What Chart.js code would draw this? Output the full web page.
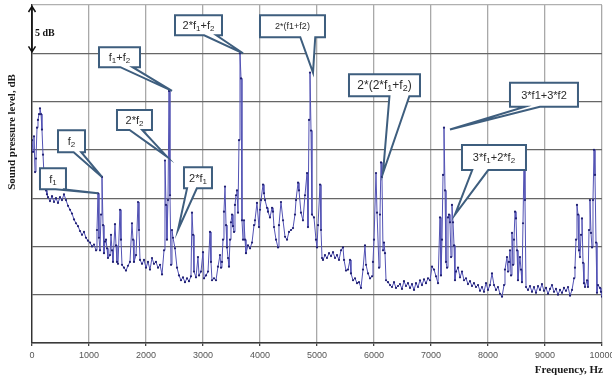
<!DOCTYPE html>
<html>
<head>
<meta charset="utf-8">
<script src="https://cdn.jsdelivr.net/npm/chart.js@4/dist/chart.umd.min.js"></script>
<style>
  html, body { margin: 0; padding: 0; background: #ffffff; }
  #wrap { width: 612px; height: 376px; position: relative; }
</style>
</head>
<body>
<div id="wrap"><canvas id="spectrum" width="612" height="376"></canvas></div>
<script>
// Narrow-band spectrum: frequency (Hz) and sound pressure level (dB, relative)
const freqHz = [
  0, 18, 35, 53, 70, 88, 105, 123, 140, 158, 175, 193, 211, 228, 246, 263, 281, 316, 351, 386,
  421, 456, 491, 526, 561, 596, 632, 667, 702, 737, 772, 807, 842, 877, 912, 947, 982, 1018, 1053, 1088,
  1123, 1140, 1158, 1175, 1193, 1211, 1228, 1246, 1263, 1281, 1298, 1316, 1333, 1368, 1386, 1404, 1421, 1456, 1474, 1491,
  1509, 1544, 1561, 1579, 1614, 1649, 1684, 1719, 1754, 1772, 1789, 1825, 1860, 1877, 1895, 1930, 1965, 2000, 2035, 2070,
  2105, 2140, 2175, 2211, 2246, 2281, 2316, 2333, 2351, 2368, 2386, 2404, 2421, 2439, 2456, 2474, 2509, 2544, 2579, 2614,
  2649, 2684, 2719, 2754, 2789, 2807, 2825, 2842, 2877, 2912, 2930, 2965, 3000, 3018, 3053, 3088, 3123, 3140, 3158, 3193,
  3228, 3263, 3298, 3316, 3333, 3351, 3368, 3386, 3404, 3421, 3439, 3456, 3474, 3491, 3509, 3526, 3544, 3561, 3579, 3596,
  3614, 3632, 3649, 3667, 3684, 3702, 3719, 3737, 3754, 3789, 3825, 3860, 3895, 3912, 3947, 3982, 4000, 4018, 4053, 4070,
  4088, 4123, 4140, 4175, 4211, 4228, 4246, 4281, 4316, 4333, 4368, 4404, 4439, 4474, 4509, 4544, 4579, 4614, 4632, 4667,
  4684, 4719, 4754, 4789, 4825, 4842, 4860, 4877, 4895, 4912, 4947, 4982, 5000, 5018, 5053, 5070, 5088, 5105, 5140, 5175,
  5211, 5246, 5281, 5316, 5351, 5386, 5421, 5456, 5474, 5509, 5544, 5579, 5596, 5632, 5667, 5702, 5737, 5772, 5807, 5842,
  5860, 5895, 5930, 5965, 5982, 6000, 6035, 6053, 6088, 6105, 6123, 6140, 6158, 6175, 6193, 6211, 6246, 6281, 6316, 6351,
  6386, 6421, 6456, 6491, 6526, 6561, 6596, 6632, 6667, 6702, 6737, 6772, 6807, 6842, 6877, 6912, 6947, 6982, 7018, 7053,
  7088, 7123, 7158, 7175, 7193, 7211, 7228, 7246, 7263, 7281, 7298, 7316, 7333, 7351, 7368, 7386, 7404, 7421, 7439, 7474,
  7509, 7544, 7579, 7614, 7649, 7684, 7719, 7754, 7789, 7825, 7860, 7895, 7930, 7965, 8000, 8035, 8070, 8105, 8140, 8175,
  8211, 8246, 8281, 8298, 8333, 8351, 8368, 8386, 8404, 8421, 8439, 8456, 8474, 8491, 8509, 8526, 8561, 8579, 8596, 8614,
  8632, 8649, 8667, 8702, 8737, 8772, 8807, 8842, 8877, 8912, 8947, 8982, 9018, 9053, 9088, 9123, 9158, 9193, 9228, 9263,
  9298, 9333, 9368, 9404, 9439, 9474, 9509, 9526, 9544, 9561, 9579, 9596, 9614, 9632, 9649, 9667, 9684, 9702, 9737, 9754,
  9772, 9789, 9807, 9825, 9842, 9860, 9877, 9895, 9912, 9930, 9965, 9982, 10000
];

const levelDb = [
  21.0, 19.8, 21.4, 17.7, 19.1, 22.3, 23.1, 23.7, 24.3, 23.7, 22.1, 19.5, 17.4, 16.7, 15.8, 15.4, 15.1, 14.7, 15.2, 14.6,
  15.0, 14.5, 15.1, 14.8, 15.4, 14.8, 14.2, 13.8, 13.4, 12.8, 12.4, 12.1, 11.6, 11.2, 11.5, 10.9, 10.6, 10.4, 10.0, 10.2,
  9.6, 11.7, 15.5, 10.9, 9.6, 13.3, 17.2, 12.2, 9.3, 10.5, 10.7, 9.8, 8.8, 9.1, 11.2, 9.6, 8.4, 12.3, 10.1, 8.4,
  8.2, 13.8, 10.7, 8.1, 7.8, 7.5, 8.0, 8.4, 12.4, 10.7, 8.4, 9.1, 14.6, 11.7, 8.6, 8.2, 8.6, 7.8, 8.4, 7.6,
  8.8, 8.2, 8.4, 7.8, 8.1, 7.1, 9.6, 18.9, 14.3, 10.7, 14.8, 26.1, 15.3, 8.1, 11.7, 10.9, 9.8, 7.8, 7.0, 6.5,
  6.8, 6.3, 6.7, 6.4, 6.9, 13.5, 11.2, 7.4, 6.8, 8.9, 7.0, 7.4, 9.4, 6.7, 7.0, 7.4, 11.5, 8.4, 6.5, 6.7,
  6.5, 7.9, 9.1, 7.8, 8.4, 10.7, 13.6, 16.2, 12.2, 9.9, 8.8, 7.9, 10.7, 12.5, 13.3, 12.1, 11.5, 14.3, 15.3, 15.8,
  13.5, 21.0, 30.0, 27.4, 12.7, 10.7, 12.7, 10.7, 9.3, 10.1, 9.8, 10.4, 12.2, 12.7, 14.5, 12.0, 13.8, 14.8, 16.4, 15.5,
  14.8, 14.0, 13.6, 13.0, 14.0, 13.6, 12.0, 10.7, 9.9, 12.2, 14.6, 12.7, 11.0, 10.7, 11.5, 11.7, 11.9, 13.3, 14.8, 16.6,
  15.8, 13.5, 12.7, 15.3, 17.6, 12.0, 23.1, 28.0, 22.0, 13.3, 13.0, 10.7, 9.9, 12.2, 16.4, 11.7, 8.8, 8.6, 9.1, 8.8,
  9.3, 9.0, 9.4, 8.8, 9.1, 8.6, 9.6, 9.9, 8.6, 7.5, 7.6, 8.6, 7.2, 6.5, 6.7, 6.2, 6.3, 5.7, 7.6, 10.1,
  8.1, 7.2, 6.7, 6.9, 8.4, 10.7, 17.6, 13.5, 7.8, 13.3, 18.7, 17.2, 9.6, 10.4, 9.3, 6.5, 6.3, 6.0, 5.8, 6.3,
  5.7, 5.9, 6.1, 5.6, 6.4, 5.9, 6.2, 5.7, 6.1, 5.5, 6.2, 5.8, 6.5, 6.0, 6.6, 6.2, 6.7, 6.5, 7.9, 7.6,
  6.9, 6.2, 13.0, 7.0, 10.7, 17.4, 22.3, 15.8, 8.4, 7.8, 13.0, 13.3, 12.5, 8.9, 14.3, 12.5, 10.1, 6.5, 7.4, 7.8,
  6.8, 7.4, 6.5, 6.7, 6.1, 6.4, 5.9, 6.2, 5.8, 6.0, 5.4, 5.8, 5.3, 6.2, 5.5, 6.0, 7.2, 6.0, 5.5, 5.8,
  5.1, 4.8, 6.0, 7.6, 8.9, 7.4, 8.4, 9.6, 7.0, 11.4, 8.1, 10.7, 13.6, 12.9, 9.6, 6.5, 8.9, 7.6, 6.3, 12.4,
  19.0, 14.8, 5.8, 5.5, 5.9, 5.3, 5.8, 5.2, 5.9, 5.5, 6.1, 5.4, 5.7, 5.1, 5.6, 6.0, 5.3, 5.6, 5.0, 5.5,
  5.2, 5.7, 5.4, 5.8, 4.9, 5.5, 6.7, 7.8, 10.7, 14.3, 13.3, 9.6, 8.9, 11.2, 12.9, 8.3, 6.2, 5.8, 6.5, 5.8,
  11.7, 14.8, 11.4, 9.9, 14.8, 20.0, 17.4, 10.4, 5.2, 6.0, 5.7, 5.3, 4.8
];

// Axis ranges and tick values
const xTicks = [0, 1000, 2000, 3000, 4000, 5000, 6000, 7000, 8000, 9000, 10000];
const yGridDb = [0, 5, 10, 15, 20, 25, 30, 35];

// Peak labels: text runs ([text, isSubscript]) and the point each pointer aims at (Hz, dB)
const peakLabels = [
  { key: 'f1',      runs: [['f', 0], ['1', 1]],                                   tipHz: 1158, tipDb: 15.5 },
  { key: 'f2',      runs: [['f', 0], ['2', 1]],                                   tipHz: 1228, tipDb: 17.2 },
  { key: 'f1+f2',   runs: [['f', 0], ['1', 1], ['+f', 0], ['2', 1]],              tipHz: 2456, tipDb: 26.1 },
  { key: '2f2',     runs: [['2*f', 0], ['2', 1]],                                 tipHz: 2368, tipDb: 19.3 },
  { key: '2f1+f2',  runs: [['2*f', 0], ['1', 1], ['+f', 0], ['2', 1]],            tipHz: 3702, tipDb: 30.0 },
  { key: '2(f1+f2)',runs: [['2*(f1+f2)', 0]],                                     tipHz: 4930, tipDb: 28.0 },
  { key: '2(2f1+f2)',runs: [['2*(2*f', 0], ['1', 1], ['+f', 0], ['2', 1], [')', 0]], tipHz: 6158, tipDb: 17.6 },
  { key: '3f1+3f2', runs: [['3*f1+3*f2', 0]],                                     tipHz: 7333, tipDb: 22.1 },
  { key: '3f1+2f2', runs: [['3*f', 0], ['1', 1], ['+2*f', 0], ['2', 1]],          tipHz: 7421, tipDb: 13.3 },
  { key: '2f1',     runs: [['2*f', 0], ['1', 1]],                                 tipHz: 2561, tipDb: 11.7 }
];

// Callout box placement (centre in Hz/dB, size in px, pointer base as fractions of box width)
const calloutLayout = {
  'f1':        { hz: 368,  db: 17.0, w: 26, h: 21, base: [0.60, 0.88], size: 11 },
  'f2':        { hz: 693,  db: 20.9, w: 27, h: 22, base: [0.58, 0.86], size: 11 },
  'f1+f2':     { hz: 1535, db: 29.6, w: 41, h: 20, base: [0.52, 0.82], size: 11 },
  '2f2':       { hz: 1798, db: 23.1, w: 35, h: 20, base: [0.36, 0.72], size: 11 },
  '2f1+f2':    { hz: 2921, db: 32.9, w: 47, h: 20, base: [0.62, 0.88], size: 11 },
  '2(f1+f2)':  { hz: 4570, db: 32.8, w: 65, h: 22, base: [0.62, 0.85], size: 9 },
  '2(2f1+f2)': { hz: 6184, db: 26.7, w: 71, h: 22, base: [0.57, 0.85], size: 12 },
  '3f1+3f2':   { hz: 8982, db: 25.7, w: 68, h: 24, base: [0.22, 0.44], size: 11 },
  '3f1+2f2':   { hz: 8105, db: 19.2, w: 64, h: 25, base: [0.16, 0.41], size: 11 },
  '2f1':       { hz: 2912, db: 17.1, w: 28, h: 21, base: [0.11, 0.46], size: 11 }
};

const SANS = '"Liberation Sans", Arial, sans-serif';
const SERIF = '"Liberation Serif", "Times New Roman", serif';

function runsWidth(ctx, runs, size) {
  let w = 0;
  for (const [t, sub] of runs) {
    ctx.font = (sub ? Math.round(size * 0.72) : size) + 'px ' + SANS;
    w += ctx.measureText(t).width;
  }
  return w;
}

const decorations = {
  id: 'decorations',
  afterDatasetsDraw(chart) {
    const ctx = chart.ctx;
    const xs = chart.scales.x, ys = chart.scales.y;
    const area = chart.chartArea;

    // 5 dB scale marker on the left axis
    const yTop = ys.getPixelForValue(35), yStep = ys.getPixelForValue(30);
    const ax = area.left;
    ctx.save();
    ctx.strokeStyle = '#111';
    ctx.lineWidth = 1.5;
    ctx.beginPath();
    ctx.moveTo(ax, yTop + 1); ctx.lineTo(ax, yStep - 1);
    ctx.moveTo(ax - 3.5, yTop + 7); ctx.lineTo(ax, yTop + 1.5); ctx.lineTo(ax + 3.5, yTop + 7);
    ctx.moveTo(ax - 3.5, yStep - 7); ctx.lineTo(ax, yStep - 1.5); ctx.lineTo(ax + 3.5, yStep - 7);
    ctx.stroke();
    ctx.fillStyle = '#111';
    ctx.font = 'bold 10px ' + SERIF;
    ctx.textAlign = 'left';
    ctx.textBaseline = 'middle';
    ctx.fillText('5 dB', ax + 3, (yTop + yStep) / 2 + 4);
    ctx.restore();

    // Peak callouts
    for (const lab of peakLabels) {
      const lay = calloutLayout[lab.key];
      const cx = xs.getPixelForValue(lay.hz), cy = ys.getPixelForValue(lay.db);
      const left = cx - lay.w / 2, top = cy - lay.h / 2;
      const right = left + lay.w, bottom = top + lay.h;
      const tx = xs.getPixelForValue(lab.tipHz), ty = ys.getPixelForValue(lab.tipDb);
      const b1 = left + lay.w * lay.base[0], b2 = left + lay.w * lay.base[1];
      ctx.save();
      ctx.beginPath();
      ctx.moveTo(left, top);
      ctx.lineTo(right, top);
      ctx.lineTo(right, bottom);
      ctx.lineTo(b2, bottom);
      ctx.lineTo(tx, ty);
      ctx.lineTo(b1, bottom);
      ctx.lineTo(left, bottom);
      ctx.closePath();
      ctx.fillStyle = '#ffffff';
      ctx.fill();
      ctx.lineJoin = 'miter';
      ctx.strokeStyle = '#3e5e7e';
      ctx.lineWidth = 2;
      ctx.stroke();

      const size = lay.size;
      const tw = runsWidth(ctx, lab.runs, size);
      let x = cx - tw / 2;
      const base = cy + size * 0.35;
      ctx.fillStyle = '#2b2b2b';
      ctx.textAlign = 'left';
      ctx.textBaseline = 'alphabetic';
      for (const [t, sub] of lab.runs) {
        const fs = sub ? Math.round(size * 0.72) : size;
        ctx.font = fs + 'px ' + SANS;
        ctx.fillText(t, x, sub ? base + 2 : base);
        x += ctx.measureText(t).width;
      }
      ctx.restore();
    }

    // Axis titles
    ctx.save();
    ctx.fillStyle = '#1a1a1a';
    ctx.font = 'bold 11px ' + SERIF;
    ctx.textBaseline = 'middle';
    ctx.textAlign = 'right';
    ctx.fillText('Frequency, Hz', area.right + 1, 370);
    ctx.translate(12, 132);
    ctx.rotate(-Math.PI / 2);
    ctx.textAlign = 'center';
    ctx.fillText('Sound pressure level, dB', 0, 0);
    ctx.restore();
  }
};

const points = freqHz.map((f, i) => ({ x: f, y: levelDb[i] }));

new Chart(document.getElementById('spectrum').getContext('2d'), {
  type: 'scatter',
  data: {
    datasets: [{
      data: points,
      showLine: true,
      tension: 0,
      borderColor: '#5252b4',
      borderWidth: 1,
      pointRadius: 1.1,
      pointBorderWidth: 0,
      pointBackgroundColor: '#1f1f72'
    }]
  },
  options: {
    responsive: false,
    animation: false,
    devicePixelRatio: 1,
    layout: { padding: { left: 0, right: 10, top: 5, bottom: 0 } },
    plugins: { legend: { display: false }, tooltip: { enabled: false } },
    scales: {
      x: {
        type: 'linear',
        min: 0,
        max: 10000,
        afterBuildTicks: (s) => { s.ticks = xTicks.map(v => ({ value: v })); },
        ticks: {
          autoSkip: false,
          maxRotation: 0,
          padding: 4,
          color: '#555',
          callback: (v) => String(v),
          font: { family: '"Liberation Sans Narrow", "Liberation Sans", Arial, sans-serif', size: 9 }
        },
        grid: { color: '#a9a9a9', lineWidth: 1.3, tickLength: 3, tickColor: '#444' },
        border: { color: '#3a3a3a', width: 1.4 },
        afterFit: (s) => { s.height = 33; s.paddingLeft = 0; s.paddingRight = 0; }
      },
      y: {
        min: 0,
        max: 35,
        afterBuildTicks: (s) => { s.ticks = yGridDb.map(v => ({ value: v })); },
        ticks: { display: false },
        grid: {
          drawTicks: false,
          color: (c) => (c.tick && c.tick.value === 35 ? '#b0b0b0' : '#666'),
          lineWidth: 1.2
        },
        border: { color: '#333', width: 1.4 },
        afterFit: (s) => { s.width = 32; s.paddingTop = 0; s.paddingBottom = 0; }
      }
    }
  },
  plugins: [decorations]
});
</script>
</body>
</html>
